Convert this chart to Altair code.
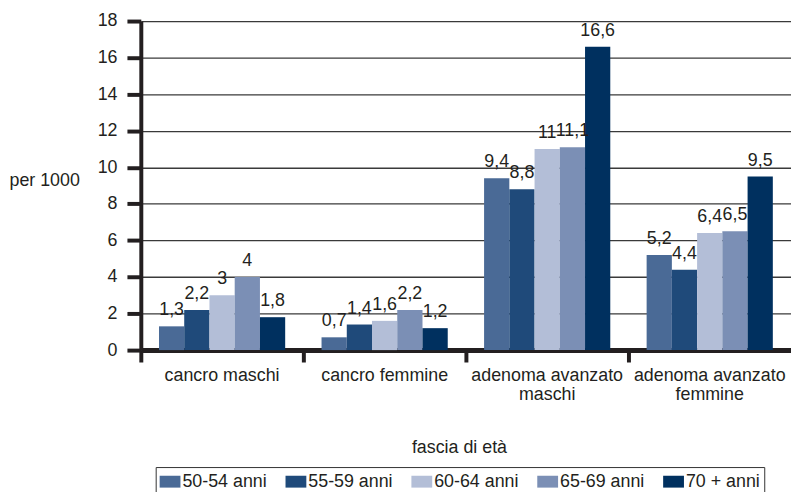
import altair as alt
import pandas as pd

categories = ["cancro maschi", "cancro femmine", "adenoma avanzato maschi", "adenoma avanzato femmine"]
age_groups = ["50-54 anni", "55-59 anni", "60-64 anni", "65-69 anni", "70 + anni"]
colors = ["#4a6a96", "#1f4a7a", "#b3bed7", "#7b8fb5", "#00305f"]
values = {
    "cancro maschi": [1.3, 2.2, 3, 4, 1.8],
    "cancro femmine": [0.7, 1.4, 1.6, 2.2, 1.2],
    "adenoma avanzato maschi": [9.4, 8.8, 11, 11.1, 16.6],
    "adenoma avanzato femmine": [5.2, 4.4, 6.4, 6.5, 9.5],
}
y_ticks = [0, 2, 4, 6, 8, 10, 12, 14, 16, 18]

rows = []
for c in categories:
    for g, v in zip(age_groups, values[c]):
        rows.append({"cat": c, "age": g, "v": v, "lab": f"{v:g}".replace(".", ",")})
df = pd.DataFrame(rows)

FONT = "Liberation Sans"
TXT = "#231f20"

x = alt.X("cat:N", sort=categories, title="fascia di età",
          scale=alt.Scale(paddingInner=0, paddingOuter=0),
          axis=alt.Axis(
              bandPosition=0, labelAngle=0, domainWidth=5, domainColor=TXT,
              tickWidth=4, tickSize=12, tickColor=TXT, labelPadding=5,
              labelFont=FONT, labelFontSize=18, labelColor=TXT, labelLineHeight=19,
              labelBaseline="top",
              labelExpr="indexof(datum.label,'adenoma avanzato ')==0 ? ['adenoma avanzato', substring(datum.label,17)] : datum.label",
              titleFont=FONT, titleFontSize=18, titleFontWeight="normal", titleColor=TXT,
              titleX=321, titleY=98, titleBaseline="middle", titleAnchor="middle", titleAlign="center",
          ))
xo = alt.XOffset("age:N", sort=age_groups,
                 scale=alt.Scale(paddingInner=0, paddingOuter=0.72))
y = alt.Y("v:Q", scale=alt.Scale(domain=[0, 18], nice=False),
          axis=alt.Axis(values=y_ticks, title="per 1000", labelOverlap=False,
                        grid=True, gridColor="#3a3a3a", gridWidth=1.3,
                        domainWidth=4, domainColor=TXT, tickWidth=4, tickSize=14,
                        tickColor=TXT, labelPadding=10,
                        labelFont=FONT, labelFontSize=18, labelColor=TXT,
                        titleFont=FONT, titleFontSize=18, titleFontWeight="normal",
                        titleColor=TXT, titleAngle=0, titleAlign="left",
                        titleBaseline="middle", titleX=-133, titleY=161))

bars = alt.Chart(df).mark_bar().encode(
    x=x, xOffset=xo, y=y,
    color=alt.Color("age:N", sort=age_groups,
                    scale=alt.Scale(domain=age_groups, range=colors),
                    legend=alt.Legend(
                        title=None, orient="none", direction="horizontal",
                        legendX=15, legendY=450,
                        symbolType="M-1,-0.57H1V0.57H-1Z", symbolSize=441,
                        symbolStrokeWidth=0, labelOffset=2, columnPadding=18,
                        labelFont=FONT, labelFontSize=18, labelColor=TXT,
                        strokeColor="#333333", padding=4,
                    )),
)

labels = alt.Chart(df).mark_text(font=FONT, fontSize=18, color=TXT,
                                 baseline="alphabetic", dy=-11).encode(
    x=x, xOffset=xo, y=y, text="lab:N")

chart = alt.layer(bars, labels).properties(
    width=656, height=332,
    autosize=alt.AutoSizeParams(type="none"),
    padding={"left": 134, "top": 11, "right": 0, "bottom": 141},
).configure_view(stroke=None).configure_axis(labelFlush=False)

chart.save("out.html", embed_options={"renderer": "svg", "actions": False})
